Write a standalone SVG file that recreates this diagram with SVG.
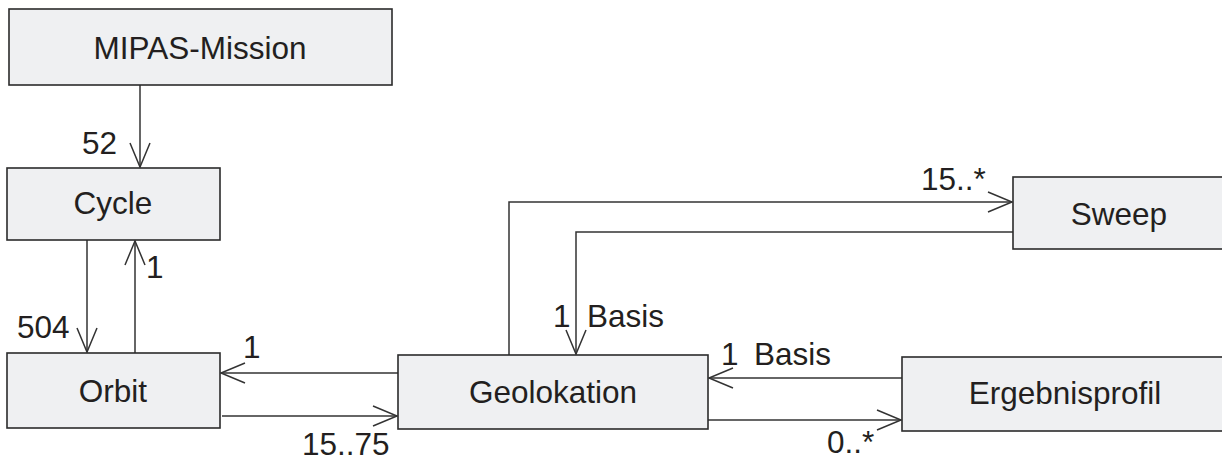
<svg xmlns="http://www.w3.org/2000/svg" width="1222" height="461" viewBox="0 0 1222 461">
<style>
.box{fill:#eff0f2;stroke:#2b2b2b;stroke-width:1.6}
.lbl{font-family:"Liberation Sans",Arial,sans-serif;font-size:31.5px;fill:#231f20}
.name{font-family:"Liberation Sans",Arial,sans-serif;font-size:31.5px;fill:#231f20;text-anchor:middle}
.con{fill:none;stroke:#333;stroke-width:1.5}
</style>
<defs>
<marker id="arr" markerUnits="userSpaceOnUse" markerWidth="30" markerHeight="24" refX="24" refY="10" orient="auto" overflow="visible">
<path d="M0,0 L24,10 L0,20" fill="none" stroke="#333" stroke-width="1.5"/>
</marker>
</defs>
<rect width="1222" height="461" fill="#fff"/>
<g id="connectors">
<path class="con" d="M140,85 V167" marker-end="url(#arr)"/>
<path class="con" d="M87,240 V352" marker-end="url(#arr)"/>
<path class="con" d="M135,353 V241" marker-end="url(#arr)"/>
<path class="con" d="M398,373 H221" marker-end="url(#arr)"/>
<path class="con" d="M222,416 H397" marker-end="url(#arr)"/>
<path class="con" d="M509,355 V202 H1012" marker-end="url(#arr)"/>
<path class="con" d="M1013,232 H576 V354" marker-end="url(#arr)"/>
<path class="con" d="M902,378 H709" marker-end="url(#arr)"/>
<path class="con" d="M708,420 H901" marker-end="url(#arr)"/>
<text class="lbl" x="117" y="154" text-anchor="end">52</text>
<text class="lbl" x="17" y="338">504</text>
<text class="lbl" x="146" y="278">1</text>
<text class="lbl" x="243" y="358">1</text>
<text class="lbl" x="302" y="455">15..75</text>
<text class="lbl" x="553" y="327">1</text>
<text class="lbl" x="587" y="327">Basis</text>
<text class="lbl" x="921" y="190">15..*</text>
<text class="lbl" x="721" y="365">1</text>
<text class="lbl" x="754" y="365">Basis</text>
<text class="lbl" x="827" y="453">0..*</text>
</g>
<g id="mipas"><rect class="box" x="9" y="9" width="383" height="76"/><text class="name" x="200" y="59">MIPAS-Mission</text></g>
<g id="cycle"><rect class="box" x="7" y="168" width="213" height="72"/><text class="name" x="113" y="214">Cycle</text></g>
<g id="orbit"><rect class="box" x="7" y="353" width="213" height="75"/><text class="name" x="113" y="402">Orbit</text></g>
<g id="geolokation"><rect class="box" x="398" y="355" width="310" height="74"/><text class="name" x="553" y="403">Geolokation</text></g>
<g id="sweep"><rect class="box" x="1013" y="177" width="214" height="72"/><text class="name" x="1119" y="225">Sweep</text></g>
<g id="ergebnisprofil"><rect class="box" x="902" y="357" width="326" height="74"/><text class="name" x="1065" y="404">Ergebnisprofil</text></g>
</svg>
